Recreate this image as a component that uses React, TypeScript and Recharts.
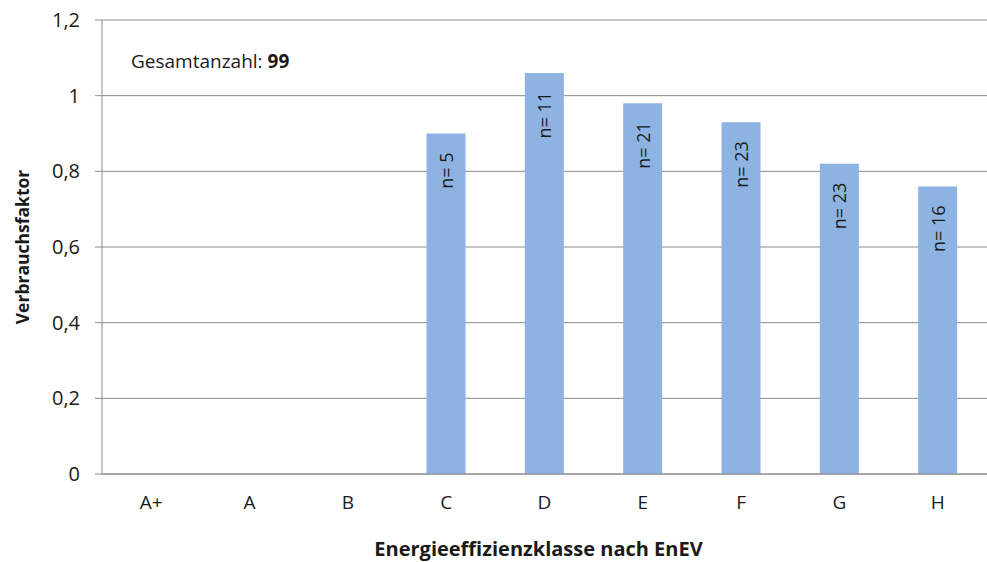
import { Bar, BarChart, CartesianGrid, Label, LabelList, XAxis, YAxis } from "recharts";

const classes = ["A+", "A", "B", "C", "D", "E", "F", "G", "H"];
const factors = [null, null, null, 0.9, 1.06, 0.98, 0.93, 0.82, 0.76];
const counts = [null, null, null, 5, 11, 21, 23, 23, 16];
const yTicks = [0, 0.2, 0.4, 0.6, 0.8, 1, 1.2];
const boundaries = [0, 1, 2, 3, 4, 5, 6, 7, 8, 9];
const total = 99;

const data = classes.map((c, i) => ({ klasse: c, faktor: factors[i], n: counts[i] }));

const FONT = "'Open Sans', 'Noto Sans', sans-serif";
const GRID = "#8a8a8a";
const TEXT = "#1a1a1a";

const fmt = (v: number) => String(v).replace(".", ",");

function CountLabel(props: any) {
  const { x, y, width, value } = props;
  if (value == null) return null;
  const cx = x + width / 2;
  const ty = y + 19;
  return (
    <text
      x={cx}
      y={ty}
      transform={`rotate(-90 ${cx} ${ty})`}
      textAnchor="end"
      dominantBaseline="central"
      fontSize={18}
      fontFamily={FONT}
      fill={TEXT}
    >
      {`n= ${value}`}
    </text>
  );
}

export default function App() {
  return (
    <div style={{ position: "absolute", left: 0, top: 0, width: 987, height: 562, background: "#fff" }}>
      <BarChart
        width={987}
        height={562}
        data={data}
        margin={{ top: 20, right: 0, bottom: 0, left: 0 }}
        barCategoryGap="30%"
      >
        <CartesianGrid vertical={false} stroke={GRID} strokeWidth={1} />
        <XAxis
          xAxisId="edges"
          type="number"
          domain={[0, 9]}
          ticks={boundaries}
          allowDataOverflow
          height={0}
          axisLine={false}
          tick={false}
          tickSize={6}
          tickLine={{ stroke: GRID }}
        />
        <XAxis
          dataKey="klasse"
          height={88}
          axisLine={{ stroke: GRID }}
          tickLine={false}
          tickSize={0}
          tickMargin={22}
          interval={0}
          tick={{ fontSize: 19, fontFamily: FONT, fill: TEXT }}
        >
          <Label
            content={({ viewBox }: any) => (
              <text
                x={viewBox.x + viewBox.width / 2 - 6}
                y={viewBox.y + 82}
                textAnchor="middle"
                fontSize={20}
                fontWeight="bold"
                fontFamily={FONT}
                fill={TEXT}
              >
                Energieeffizienzklasse nach EnEV
              </text>
            )}
          />
        </XAxis>
        <YAxis
          width={102}
          domain={[0, 1.2]}
          ticks={yTicks}
          tickFormatter={fmt}
          axisLine={{ stroke: GRID }}
          tickLine={{ stroke: GRID }}
          tickSize={7}
          tickMargin={15}
          tick={{ fontSize: 20, fontFamily: FONT, fill: TEXT }}
        >
          <Label
            content={({ viewBox }: any) => {
              const lx = viewBox.x + 22;
              const ly = viewBox.y + viewBox.height / 2;
              return (
                <text
                  x={lx}
                  y={ly}
                  transform={`rotate(-90 ${lx} ${ly})`}
                  textAnchor="middle"
                  dominantBaseline="central"
                  fontSize={17.5}
                  fontWeight="bold"
                  fontFamily={FONT}
                  fill={TEXT}
                >
                  Verbrauchsfaktor
                </text>
              );
            }}
          />
        </YAxis>
        <Bar dataKey="faktor" fill="#8db3e2" isAnimationActive={false}>
          <LabelList dataKey="n" content={CountLabel} />
        </Bar>
      </BarChart>
      <div
        style={{
          position: "absolute",
          left: 131,
          top: 48,
          fontFamily: FONT,
          fontSize: 19,
          color: TEXT,
          whiteSpace: "nowrap",
        }}
      >
        Gesamtanzahl: <b>{total}</b>
      </div>
    </div>
  );
}
